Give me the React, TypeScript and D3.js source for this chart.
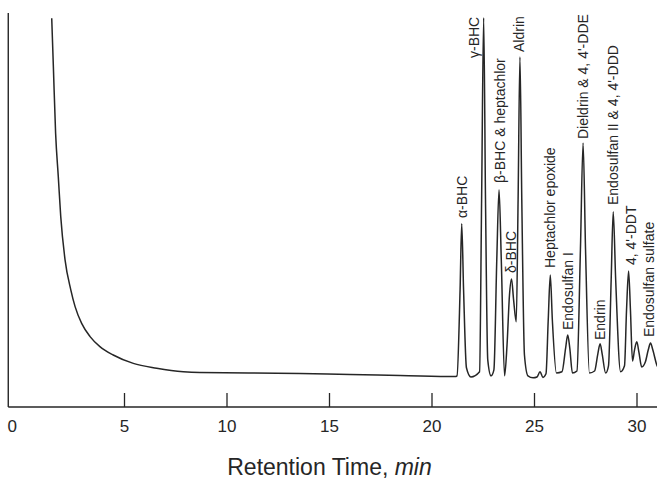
import React from 'react';
import * as d3 from 'd3';

const W = 657;
const H = 481;

// Retention time axis ticks (min)
const xTicks = [0, 5, 10, 15, 20, 25, 30];

// Solvent tail + drifting baseline (time in min, signal in arbitrary units)
const tailTime = [1.45, 1.53, 1.64, 1.77, 1.89, 2.10, 2.38, 2.59, 2.91, 3.32, 3.80, 4.45, 5.43, 6.57, 7.87, 8.68, 11.12, 13.56, 16.0, 18.44, 21.12];
const tailSignal = [97.2, 85.1, 68.4, 57.6, 47.6, 36.8, 29.3, 25.1, 20.9, 17.6, 15.1, 13.0, 10.9, 9.7, 8.8, 8.6, 8.5, 8.4, 8.1, 7.9, 7.6];

// Pesticide peak cluster trace
const peakTime = [
  21.22, 21.37, 21.45, 21.54, 21.68, 21.90,
  22.32, 22.42, 22.52, 22.61, 22.72, 22.88,
  23.02, 23.16, 23.27, 23.38, 23.54,
  23.66, 23.78, 23.88, 23.98, 24.11,
  24.20, 24.29, 24.38, 24.51, 24.68,
  24.93, 25.12, 25.27, 25.41, 25.56,
  25.67, 25.77, 25.87, 26.07,
  26.34, 26.52, 26.62, 26.72, 26.85,
  27.07, 27.24, 27.37, 27.49, 27.68,
  27.93, 28.09, 28.20, 28.30, 28.47,
  28.61, 28.74, 28.84, 28.96, 29.20,
  29.39, 29.49, 29.59, 29.68, 29.78,
  29.88, 29.99, 30.10, 30.23,
  30.41, 30.55, 30.66, 30.77, 30.98, 31.12,
];
const peakSignal = [
  7.8, 29.3, 45.8, 29.3, 9.8, 7.5,
  8.8, 51.8, 97.3, 51.8, 11.8, 7.8,
  9.3, 36.8, 54.3, 36.8, 7.8,
  15.5, 28, 32, 26.8, 21.3,
  51.8, 87.5, 51.8, 13, 7.8,
  7.3, 7.5, 8.8, 7.4, 8.3,
  21.8, 33, 21.8, 8.5,
  8.8, 14.8, 18, 14.8, 8.5,
  9, 39.3, 66, 39.3, 8.5,
  9, 13.3, 15.8, 13.3, 8.5,
  10.3, 31.8, 48.8, 31.8, 8.8,
  10.3, 24.3, 34, 24.3, 11.5,
  14.3, 16.3, 13.5, 10,
  11.3, 14.3, 16, 14.3, 10.3, 9.3,
];

// Peak labels and their anchor (time, signal) where the rotated text begins
const labelNames = [
  'α-BHC', 'γ-BHC', 'β-BHC & heptachlor', 'δ-BHC', 'Aldrin', 'Heptachlor epoxide',
  'Endosulfan I', 'Dieldrin & 4, 4\'-DDE', 'Endrin', 'Endosulfan II & 4, 4\'-DDD',
  '4, 4\'-DDT', 'Endosulfan sulfate',
];
const labelTime = [21.46, 22.05, 23.34, 23.85, 24.27, 25.76, 26.63, 27.39, 28.20, 28.85, 29.71, 30.58];
const labelSignal = [47.25, 87.25, 56, 33.5, 88.75, 34.75, 19.25, 67, 16.75, 50.5, 35.5, 17.5];

const xAxisStart = -0.67;
const xAxisEnd = 31.0;
const yAxisTop = 98.5;

export default function App() {
  const x = d3.scaleLinear().domain([0, 30]).range([22, 637]);
  const y = d3.scaleLinear().domain([0, 100]).range([407, 7]);

  const time = tailTime.concat(peakTime);
  const signal = tailSignal.concat(peakSignal);
  const pts: [number, number][] = time.map((t, i) => [t, signal[i]]);

  const line = d3
    .line<[number, number]>()
    .x((d) => x(d[0]))
    .y((d) => y(d[1]))
    .curve(d3.curveMonotoneX);

  const ink = '#262626';
  const font = '"Liberation Sans", Arial, Helvetica, sans-serif';
  const y0 = y(0);

  return (
    <svg
      width={W}
      height={H}
      viewBox={`0 0 ${W} ${H}`}
      style={{ position: 'absolute', left: 0, top: 0, background: '#fff' }}
      fontFamily={font}
    >
      <rect x={0} y={0} width={W} height={H} fill="#fff" />
      {/* axes */}
      <line x1={x(xAxisStart)} x2={x(xAxisStart)} y1={y(yAxisTop)} y2={y0} stroke={ink} strokeWidth={1.4} />
      <line x1={x(xAxisStart)} x2={x(xAxisEnd)} y1={y0} y2={y0} stroke={ink} strokeWidth={1.4} />
      {xTicks.map((v) => (
        <g key={v}>
          {v > 0 && <line x1={x(v)} x2={x(v)} y1={y0} y2={y0 - 14} stroke={ink} strokeWidth={1.3} />}
          <text
            x={v === 0 ? x(xAxisStart) + 4 : x(v)}
            y={y0 + 25}
            textAnchor="middle"
            fontSize={17}
            fill={ink}
          >
            {v}
          </text>
        </g>
      ))}
      <text x={x(15)} y={475} textAnchor="middle" fontSize={23} fill={ink}>
        Retention Time, <tspan fontStyle="italic">min</tspan>
      </text>

      {/* chromatogram trace */}
      <path d={line(pts) || ''} fill="none" stroke={ink} strokeWidth={1.5} strokeLinejoin="round" />

      {/* peak labels */}
      {labelNames.map((name, i) => (
        <text
          key={name}
          transform={`translate(${x(labelTime[i])},${y(labelSignal[i])}) rotate(-90)`}
          dy="0.35em"
          textAnchor="start"
          fontSize={14}
          fill={ink}
        >
          {name}
        </text>
      ))}
    </svg>
  );
}
